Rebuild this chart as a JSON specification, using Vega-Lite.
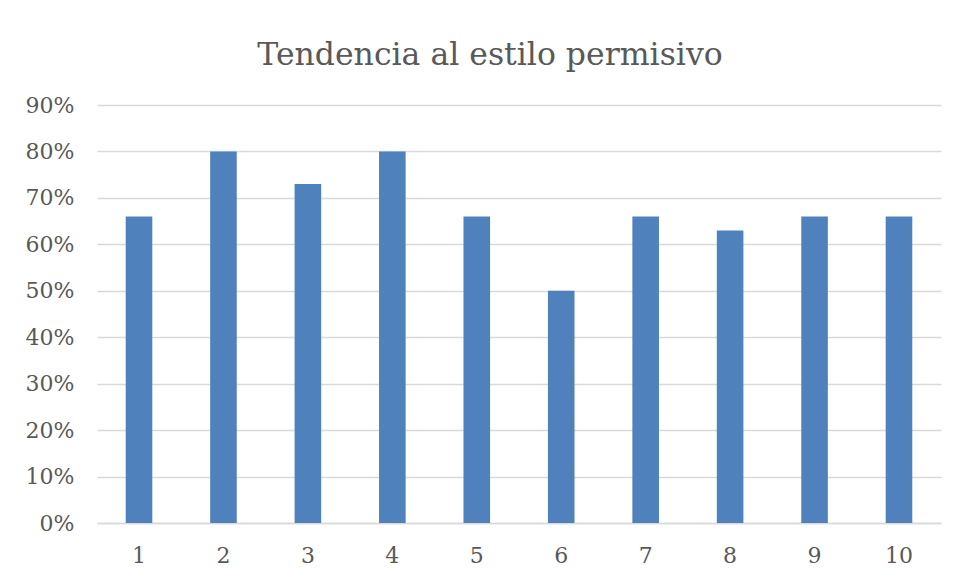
{
  "$schema": "https://vega.github.io/schema/vega-lite/v6.json",
  "width": 844,
  "height": 418,
  "autosize": {"type": "none"},
  "padding": {"left": 97, "top": 105, "right": 17, "bottom": 56},
  "background": "white",
  "title": {
    "text": "Tendencia al estilo permisivo",
    "font": "DejaVu Serif",
    "fontSize": 31.5,
    "fontWeight": "normal",
    "color": "#595959",
    "anchor": "middle",
    "dx": -29,
    "offset": 23
  },
  "data": {
    "values": [
      {"grupo": "1", "valor": 0.66},
      {"grupo": "2", "valor": 0.80},
      {"grupo": "3", "valor": 0.73},
      {"grupo": "4", "valor": 0.80},
      {"grupo": "5", "valor": 0.66},
      {"grupo": "6", "valor": 0.50},
      {"grupo": "7", "valor": 0.66},
      {"grupo": "8", "valor": 0.63},
      {"grupo": "9", "valor": 0.66},
      {"grupo": "10", "valor": 0.66}
    ]
  },
  "mark": {"type": "bar", "color": "#4F81BD"},
  "encoding": {
    "x": {
      "field": "grupo",
      "type": "ordinal",
      "sort": null,
      "scale": {"paddingInner": 0.685, "paddingOuter": 0.34},
      "axis": {
        "title": null,
        "labelAngle": 0,
        "labelFont": "DejaVu Serif",
        "labelFontSize": 22,
        "labelColor": "#595959",
        "labelPadding": 22,
        "ticks": false,
        "domainColor": "#D9D9D9",
        "domainWidth": 1.5,
        "grid": false
      }
    },
    "y": {
      "field": "valor",
      "type": "quantitative",
      "scale": {"domain": [0, 0.9], "nice": false},
      "axis": {
        "title": null,
        "format": ".0%",
        "values": [0, 0.1, 0.2, 0.3, 0.4, 0.5, 0.6, 0.7, 0.8, 0.9],
        "labelFont": "DejaVu Serif",
        "labelFontSize": 22,
        "labelColor": "#595959",
        "labelPadding": 23,
        "ticks": false,
        "domain": false,
        "grid": true,
        "gridColor": "#D9D9D9",
        "gridWidth": 1.5
      }
    }
  },
  "config": {"view": {"stroke": null}}
}
